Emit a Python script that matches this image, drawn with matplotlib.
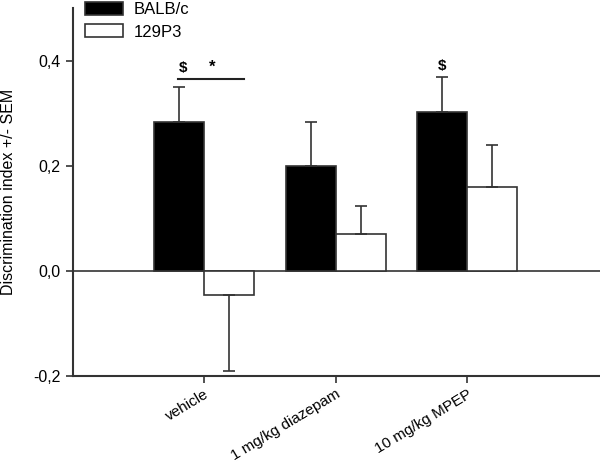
import matplotlib.pyplot as plt
import numpy as np

plt.rcParams['font.family'] = ['Liberation Sans', 'DejaVu Sans']

groups = ['vehicle', '1 mg/kg diazepam', '10 mg/kg MPEP']
balb_mean = [0.284, 0.200, 0.303]
balb_sem = [0.065, 0.084, 0.065]
p129_mean = [-0.046, 0.0705, 0.160]
p129_sem = [0.144, 0.052, 0.079]

yticks = [-0.2, 0.0, 0.2, 0.4]
yticklabels = ['-0,2', '0,0', '0,2', '0,4']

EDGE = '#333333'
width = 0.38
x = np.arange(len(groups))

fig = plt.figure(figsize=(6, 4.66), dpi=100)
ax = fig.add_axes([0.1217, 0.193, 0.878, 0.79])

def one_sided(means, sems):
    lo = [s if m < 0 else 0 for m, s in zip(means, sems)]
    hi = [0 if m < 0 else s for m, s in zip(means, sems)]
    return [lo, hi]

b1 = ax.bar(x - width / 2, balb_mean, width, color='black', edgecolor=EDGE,
            linewidth=1.2, label='BALB/c', zorder=2)
b2 = ax.bar(x + width / 2, p129_mean, width, color='white', edgecolor=EDGE,
            linewidth=1.2, label='129P3', zorder=2)
ax.errorbar(x - width / 2, balb_mean, yerr=one_sided(balb_mean, balb_sem),
            fmt='none', ecolor=EDGE, elinewidth=1.2, capsize=4.3, capthick=1.2, zorder=3)
ax.errorbar(x + width / 2, p129_mean, yerr=one_sided(p129_mean, p129_sem),
            fmt='none', ecolor=EDGE, elinewidth=1.2, capsize=4.3, capthick=1.2, zorder=3)

ax.axhline(0, color=EDGE, linewidth=1.2, zorder=1)

# significance markers
ax.plot([-0.2, 0.3], [0.364, 0.364], color='#222222', linewidth=1.5)
ax.text(-0.16, 0.372, '$', ha='center', va='bottom', fontsize=11, fontweight='bold')
ax.text(0.06, 0.372, '*', ha='center', va='bottom', fontsize=12, fontweight='bold')
ax.text(2 - width / 2, 0.376, '$', ha='center', va='bottom', fontsize=11,
        fontweight='bold')

ax.set_xlim(-1, 3.01)
ax.set_ylim(-0.2, 0.5)
ax.set_yticks(yticks)
ax.set_yticklabels(yticklabels, fontsize=11.5)
ax.set_xticks(x)
ax.set_xticklabels(groups, rotation=31, ha='right', rotation_mode='anchor', fontsize=11)
ax.tick_params(axis='both', length=5, width=1.2, color=EDGE, pad=4)
ax.tick_params(axis='x', pad=3)

for side in ['top', 'right']:
    ax.spines[side].set_visible(False)
for side in ['left', 'bottom']:
    ax.spines[side].set_color(EDGE)
    ax.spines[side].set_linewidth(1.5)

ax.set_ylabel('Discrimination index +/- SEM', fontsize=11.5)
ax.yaxis.set_label_coords(-0.108, 0.5)

fig.legend(handles=[b1, b2], loc='upper left', bbox_to_anchor=(0.128, 1.014),
           frameon=False, fontsize=12, handlelength=2.3, handleheight=0.8,
           handletextpad=0.6, labelspacing=0.45, borderpad=0)

fig.savefig('out.png', dpi=100)
